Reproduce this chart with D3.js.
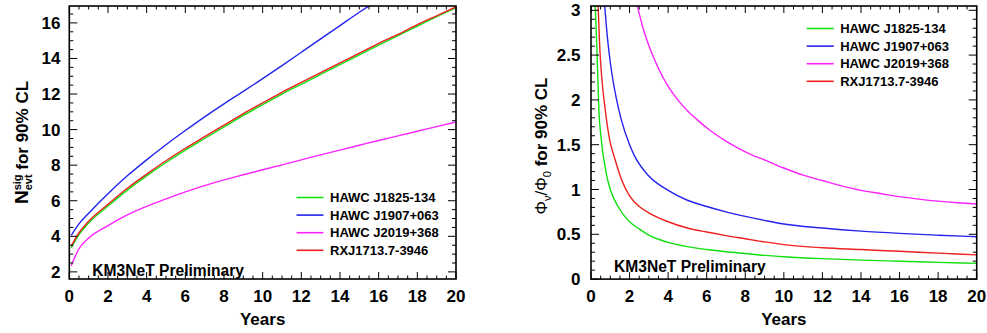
<!DOCTYPE html>
<html><head><meta charset="utf-8">
<script src="https://cdn.jsdelivr.net/npm/d3@7"></script>
<style>
html,body{margin:0;padding:0;background:#fff;}
svg{display:block;font-family:"Liberation Sans",Arial,Helvetica,sans-serif;}
</style></head>
<body>
<svg id="chart" width="987" height="333"></svg>
<script>
// ---------- DATA ----------
const seriesNames = ["HAWC J1825-134", "HAWC J1907+063", "HAWC J2019+368", "RXJ1713.7-3946"];
const seriesColors = ["#11e011", "#2424ee", "#ff22ff", "#ee2020"];

const xTicks = [0, 2, 4, 6, 8, 10, 12, 14, 16, 18, 20];
const leftYTicks = [2, 4, 6, 8, 10, 12, 14, 16];
const rightYTicks = [0, 0.5, 1, 1.5, 2, 2.5, 3];
const rightYTickLabels = ["0", "0.5", "1", "1.5", "2", "2.5", "3"];

// Left panel: N_evt^sig for 90% CL vs years
const leftYears = [0.1, 0.5, 1, 2, 3, 4, 5, 6, 7, 8, 9, 10, 11, 12, 13, 14, 15, 16, 17, 18, 19, 20];
const nevtJ1825 = [3.35, 4.1, 4.75, 5.7, 6.6, 7.4, 8.15, 8.85, 9.5, 10.15, 10.8, 11.4, 12.0, 12.55, 13.1, 13.65, 14.2, 14.75, 15.28, 15.82, 16.35, 16.85];
const blueYears = [0.1, 0.5, 1, 2, 3, 4, 5, 6, 7, 8, 9, 10, 11, 12, 13, 14, 15, 16];
const nevtJ1907 = [4.05, 4.7, 5.3, 6.4, 7.4, 8.3, 9.15, 9.95, 10.72, 11.45, 12.15, 12.87, 13.6, 14.35, 15.1, 15.85, 16.6, 17.3];
const nevtJ2019 = [2.35, 3.3, 3.9, 4.6, 5.2, 5.68, 6.1, 6.5, 6.85, 7.17, 7.46, 7.74, 8.02, 8.3, 8.58, 8.85, 9.12, 9.39, 9.65, 9.91, 10.17, 10.43];
const nevtRXJ = [3.45, 4.2, 4.85, 5.8, 6.7, 7.5, 8.25, 8.95, 9.6, 10.25, 10.9, 11.5, 12.1, 12.65, 13.2, 13.75, 14.3, 14.85, 15.35, 15.9, 16.4, 16.9];

// Right panel: Phi_nu/Phi_0 for 90% CL vs years
const fluxYearsJ1825 = [0.22, 0.3, 0.43, 0.5, 0.8, 1, 1.4, 2, 2.5, 3, 4, 5, 6, 7, 8, 9, 10, 12, 14, 16, 18, 20];
const fluxJ1825 = [3.05, 2.6, 1.8, 1.62, 1.17, 1.0, 0.81, 0.64, 0.56, 0.49, 0.41, 0.362, 0.33, 0.305, 0.285, 0.265, 0.25, 0.228, 0.212, 0.199, 0.187, 0.176];
const fluxYearsJ1907 = [0.71, 0.85, 1, 1.3, 1.57, 2, 2.27, 3, 4, 5, 6, 7, 8, 9, 10, 12, 14, 16, 18, 20];
const fluxJ1907 = [3.05, 2.7, 2.42, 2.03, 1.78, 1.5, 1.37, 1.15, 0.99, 0.88, 0.81, 0.75, 0.70, 0.655, 0.615, 0.57, 0.535, 0.51, 0.49, 0.473];
const fluxYearsJ2019 = [2.4, 2.7, 3.1, 3.5, 4.0, 4.5, 5.0, 5.5, 6.2, 7, 7.6, 8.3, 9, 10, 11, 12, 13, 14, 15, 16, 17, 18, 19, 20];
const fluxJ2019 = [3.05, 2.8, 2.55, 2.35, 2.15, 2.0, 1.88, 1.78, 1.655, 1.54, 1.465, 1.39, 1.33, 1.24, 1.16, 1.1, 1.04, 0.99, 0.955, 0.92, 0.893, 0.87, 0.852, 0.838];
const fluxYearsRXJ = [0.37, 0.45, 0.55, 0.75, 1, 1.2, 1.6, 2, 2.5, 3, 4, 5, 6, 7, 8, 9, 10, 12, 14, 16, 18, 20];
const fluxRXJ = [3.05, 2.6, 2.27, 1.87, 1.52, 1.37, 1.1, 0.93, 0.81, 0.74, 0.64, 0.57, 0.525, 0.485, 0.45, 0.415, 0.385, 0.35, 0.33, 0.31, 0.29, 0.27];

// ---------- DRAW ----------
const svg = d3.select("#chart");
const FONT = 17;

function panel(opts) {
  const {x0, x1, y0, y1, yDomain, yTicks, yLabels, yMinorStep, series, id, yLabelRight, legendX, legendY, kmBaseline} = opts;
  const x = d3.scaleLinear().domain([0, 20]).range([x0, x1]);
  const y = d3.scaleLinear().domain(yDomain).range([y1, y0]);
  const g = svg.append("g");

  g.append("clipPath").attr("id", id).append("rect")
    .attr("x", x0).attr("y", y0).attr("width", x1 - x0).attr("height", y1 - y0);

  const line = d3.line().x(d => x(d[0])).y(d => y(d[1])).curve(d3.curveMonotoneX);
  [0, 1, 2, 3].forEach(i => {
    const s = series[i];
    const pts = s.t.map((t, k) => [t, s.v[k]]);
    g.append("path").attr("d", line(pts)).attr("fill", "none")
      .attr("stroke", seriesColors[i]).attr("stroke-width", 1.4)
      .attr("clip-path", `url(#${id})`);
  });

  const xMinor = d3.range(0, 20.001, 0.5);
  const yMinor = d3.range(Math.ceil(yDomain[0] / yMinorStep) * yMinorStep, yDomain[1] + 1e-6, yMinorStep);
  const tk = g.append("g").attr("stroke", "#000").attr("stroke-width", 1);
  xMinor.forEach(v => {
    const major = Math.abs(v / 2 - Math.round(v / 2)) < 1e-6;
    const L = major ? 7 : 3.5;
    tk.append("line").attr("x1", x(v)).attr("x2", x(v)).attr("y1", y1).attr("y2", y1 - L);
    tk.append("line").attr("x1", x(v)).attr("x2", x(v)).attr("y1", y0).attr("y2", y0 + L);
  });
  yMinor.forEach(v => {
    const major = yTicks.some(t => Math.abs(t - v) < 1e-6);
    const L = major ? 8 : 4;
    tk.append("line").attr("x1", x0).attr("x2", x0 + L).attr("y1", y(v)).attr("y2", y(v));
    tk.append("line").attr("x1", x1).attr("x2", x1 - L).attr("y1", y(v)).attr("y2", y(v));
  });

  g.append("rect").attr("x", x0).attr("y", y0).attr("width", x1 - x0).attr("height", y1 - y0)
    .attr("fill", "none").attr("stroke", "#000").attr("stroke-width", 1.6);

  xTicks.forEach(v => {
    g.append("text").attr("x", x(v)).attr("y", y1 + 23).attr("text-anchor", "middle")
      .attr("font-size", FONT).attr("font-weight", "bold").text(v);
  });
  yTicks.forEach((v, k) => {
    g.append("text").attr("x", yLabelRight).attr("y", y(v) + 6).attr("text-anchor", "end")
      .attr("font-size", FONT).attr("font-weight", "bold").text(yLabels[k]);
  });
  g.append("text").attr("x", (x0 + x1) / 2).attr("y", 325).attr("text-anchor", "middle")
    .attr("font-size", FONT).attr("font-weight", "bold").text("Years");

  seriesNames.forEach((name, i) => {
    const ly = legendY + i * 17.6;
    g.append("line").attr("x1", legendX).attr("x2", legendX + 27).attr("y1", ly).attr("y2", ly)
      .attr("stroke", seriesColors[i]).attr("stroke-width", 1.6);
    g.append("text").attr("x", legendX + 33.5).attr("y", ly + 4.7).attr("font-size", 13)
      .attr("font-weight", "bold").text(name);
  });

  g.append("text").attr("x", x0 + 23).attr("y", kmBaseline).attr("font-size", 15.6)
    .attr("font-weight", "bold").text("KM3NeT Preliminary");
  return g;
}

panel({
  id: "clipL", x0: 69.3, x1: 456, y0: 6, y1: 279,
  yDomain: [1.6, 16.95], yTicks: leftYTicks, yLabels: leftYTicks.map(String), yMinorStep: 0.5,
  yLabelRight: 60.5, legendX: 296.5, legendY: 197.5, kmBaseline: 275.5,
  series: [
    {t: leftYears, v: nevtJ1825},
    {t: blueYears, v: nevtJ1907},
    {t: leftYears, v: nevtJ2019},
    {t: leftYears, v: nevtRXJ}
  ]
});

panel({
  id: "clipR", x0: 591, x1: 976.7, y0: 6, y1: 279.1,
  yDomain: [0, 3.048], yTicks: rightYTicks, yLabels: rightYTickLabels, yMinorStep: 0.1,
  yLabelRight: 580.5, legendX: 806.7, legendY: 28.5, kmBaseline: 271.7,
  series: [
    {t: fluxYearsJ1825, v: fluxJ1825},
    {t: fluxYearsJ1907, v: fluxJ1907},
    {t: fluxYearsJ2019, v: fluxJ2019},
    {t: fluxYearsRXJ, v: fluxRXJ}
  ]
});

const tL = svg.append("text").attr("transform", "translate(28,142.5) rotate(-90)")
  .attr("text-anchor", "middle").attr("font-size", FONT).attr("font-weight", "bold");
tL.append("tspan").attr("font-size", 19).text("N");
tL.append("tspan").attr("font-size", 11).attr("dy", -7.5).text("sig");
tL.append("tspan").attr("font-size", 11).attr("dx", -15.9).attr("dy", 11.5).text("evt");
tL.append("tspan").attr("dy", -4).text(" for 90% CL");

const tR = svg.append("text").attr("transform", "translate(547,146) rotate(-90)")
  .attr("text-anchor", "middle").attr("font-size", FONT).attr("font-weight", "bold");
tR.append("tspan").attr("font-weight", "normal").text("Φ");
tR.append("tspan").attr("font-weight", "normal").attr("font-size", 11).attr("dy", 4).text("ν");
tR.append("tspan").attr("font-weight", "normal").attr("dy", -4).text("/Φ");
tR.append("tspan").attr("font-weight", "normal").attr("font-size", 11).attr("dy", 4).text("0");
tR.append("tspan").attr("dy", -4).text(" for 90% CL");
</script>
</body></html>
